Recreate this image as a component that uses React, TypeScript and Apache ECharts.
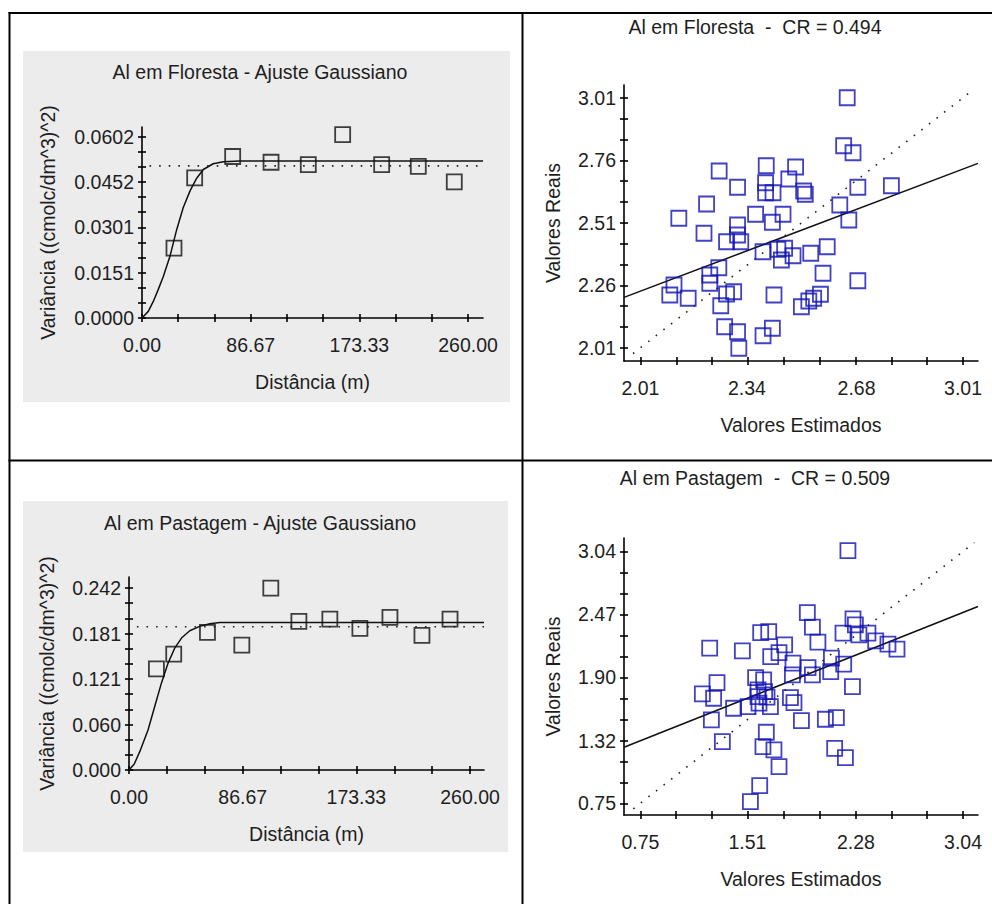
import React, { useEffect, useRef } from 'react';
import * as echarts from 'echarts';

// ---------------- Data ----------------
// Panel 1 – Al em Floresta, experimental semivariogram
const floLag = [25.5, 42.0, 72.3, 102.9, 132.6, 160.0, 191.1, 220.3, 249.0];
const floGamma = [0.0232, 0.0465, 0.0536, 0.0517, 0.0509, 0.0609, 0.0509, 0.0503, 0.0452];
// fitted Gaussian model
const floModelLag = [0, 5, 9, 13, 17, 22.3, 27.7, 32.9, 38.3, 43.6, 48.9, 56.8, 64.8, 78.1, 271.9];
const floModelGamma = [0, 0.0022, 0.0055, 0.0095, 0.0138, 0.0205, 0.0294, 0.0367, 0.0422, 0.0464, 0.0493, 0.0512, 0.0519, 0.0521, 0.0521];
const floSampleVar = 0.0505;
const floXLabels = [0, 86.67, 173.33, 260];
const floYLabels = [0, 0.0151, 0.0301, 0.0452, 0.0602];

// Panel 2 – Al em Pastagem, experimental semivariogram
const pasLag = [20.9, 34.1, 59.8, 86.0, 108.1, 129.5, 153.1, 176.0, 198.9, 223.3, 244.7];
const pasGamma = [0.1346, 0.1542, 0.183, 0.1660, 0.242, 0.1976, 0.2008, 0.1883, 0.203, 0.179, 0.2008];
const pasModelLag = [0, 4, 8.2, 14.5, 19.6, 24.7, 29.8, 34.9, 40.0, 46.3, 53.9, 61.6, 69.2, 270.6];
const pasModelGamma = [0, 0.0080, 0.0244, 0.0533, 0.0844, 0.1155, 0.1422, 0.1622, 0.1755, 0.1852, 0.191, 0.1946, 0.1963, 0.1963];
const pasSampleVar = 0.1905;
const pasXLabels = [0, 86.67, 173.33, 260];
const pasYLabels = [0, 0.06, 0.121, 0.181, 0.242];

// Panel 3 – Al em Floresta, cross validation (estimated vs real)
const floEst = [
  2.651, 2.640, 2.669, 2.254, 2.400, 2.491, 2.470, 2.311, 2.398, 2.398,
  2.421, 2.516, 2.521, 2.684, 2.788, 2.215, 2.129, 2.628, 2.656, 2.367,
  2.419, 2.452, 2.207, 2.311, 2.311, 2.277, 2.321, 2.390, 2.436, 2.457,
  2.447, 2.483, 2.538, 2.589, 2.253, 2.225, 2.225, 2.576, 2.684, 2.101,
  2.114, 2.158, 2.277, 2.299, 2.259, 2.424, 2.509, 2.532, 2.547, 2.568,
  2.271, 2.311, 2.315, 2.390, 2.419,
];
const floReal = [
  3.010, 2.818, 2.790, 2.717, 2.738, 2.733, 2.685, 2.652, 2.670, 2.630,
  2.630, 2.637, 2.624, 2.652, 2.658, 2.585, 2.528, 2.581, 2.521, 2.544,
  2.512, 2.544, 2.468, 2.501, 2.461, 2.434, 2.434, 2.394, 2.404, 2.408,
  2.361, 2.378, 2.388, 2.414, 2.330, 2.301, 2.268, 2.308, 2.278, 2.221,
  2.261, 2.208, 2.225, 2.234, 2.178, 2.221, 2.174, 2.197, 2.208, 2.224,
  2.094, 2.074, 2.008, 2.058, 2.088,
];
const floRegX = [1.959, 3.0565];
const floRegY = [2.2116, 2.7476];
const floIdentity = [1.987, 3.041];
const floCvXLabels = [2.01, 2.34, 2.68, 3.01];
const floCvYLabels = [2.01, 2.26, 2.51, 2.76, 3.01];

// Panel 4 – Al em Pastagem, cross validation
const pasEst = [
  2.223, 1.935, 1.971, 2.010, 2.259, 2.276, 2.188, 2.301, 2.365, 2.420,
  2.507, 2.571, 1.604, 1.661, 1.242, 1.474, 1.774, 1.734, 1.675, 1.833,
  1.940, 1.829, 1.971, 2.106, 2.101, 2.193, 2.255, 1.294, 1.190, 1.270,
  1.568, 1.625, 1.585, 1.632, 1.585, 1.649, 1.592, 1.673, 1.514, 1.412,
  1.815, 1.840, 1.254, 1.893, 2.063, 2.141, 1.332, 1.644, 1.620, 1.698,
  1.734, 2.129, 2.205, 1.597, 1.531,
];
const pasReal = [
  3.048, 2.484, 2.351, 2.215, 2.427, 2.372, 2.297, 2.281, 2.297, 2.227,
  2.197, 2.151, 2.302, 2.311, 2.160, 2.136, 2.190, 2.120, 2.084, 2.024,
  1.984, 1.917, 1.917, 2.069, 1.947, 2.015, 1.811, 1.847, 1.745, 1.705,
  1.893, 1.872, 1.781, 1.765, 1.720, 1.715, 1.660, 1.629, 1.629, 1.614,
  1.711, 1.665, 1.508, 1.502, 1.514, 1.529, 1.311, 1.396, 1.265, 1.235,
  1.083, 1.250, 1.165, 0.910, 0.765,
];
const pasRegX = [0.634, 3.146];
const pasRegY = [1.2596, 2.539];
const pasIdentity = [0.70, 3.12];
const pasCvXLabels = [0.75, 1.51, 2.28, 3.04];
const pasCvYLabels = [0.75, 1.32, 1.90, 2.47, 3.04];

const titles = [
  'Al em Floresta - Ajuste Gaussiano',
  'Al em Pastagem - Ajuste Gaussiano',
  'Al em Floresta  -  CR = 0.494',
  'Al em Pastagem  -  CR = 0.509',
];
const varName = 'Variância ((cmolc/dm^3)^2)';
const distName = 'Distância (m)';
const realName = 'Valores Reais';
const estName = 'Valores Estimados';

// ---------------- helpers ----------------
const FONT = '"Liberation Sans", Arial, sans-serif';
const FS = 19.5;
const TXT = '#1e1e1e';

const zip = (a: number[], b: number[]) => a.map((v, i) => [v, b[i]]);

function evenTicks(labels: number[], perMajor: number) {
  const first = labels[0];
  const last = labels[labels.length - 1];
  const n = (labels.length - 1) * perMajor;
  const out: number[] = [];
  for (let k = 0; k <= n; k++) out.push(first + ((last - first) * k) / n);
  return out;
}

function axisPair(
  dim: 'x' | 'y',
  grid: number,
  min: number,
  max: number,
  labels: number[],
  dec: number,
  name: string,
  nameGap: number,
  margin: number
) {
  const pos = dim === 'x' ? 'bottom' : 'left';
  const ticks = evenTicks(labels, 3);
  const tickStyle = { color: '#000', width: 1.6 };
  const main: any = {
    type: 'value',
    gridIndex: grid,
    position: pos,
    min,
    max,
    name,
    nameLocation: 'middle',
    nameGap,
    nameTextStyle: { fontFamily: FONT, fontSize: FS, color: TXT },
    axisLine: { show: true, onZero: false, lineStyle: { color: '#000', width: 1.6 } },
    axisTick: { show: false },
    axisLabel: {
      show: true,
      customValues: labels,
      formatter: (v: number) => v.toFixed(dec),
      margin,
      fontFamily: FONT,
      fontSize: FS,
      color: TXT,
      hideOverlap: false,
    },
    splitLine: { show: false },
    z: 3,
  };
  // second copy of the axis, shifted 4px into the plot, whose 8px ticks cross the axis line
  const overlay: any = {
    type: 'value',
    gridIndex: grid,
    position: pos,
    offset: -4,
    min,
    max,
    axisLine: { show: false, onZero: false },
    axisTick: { show: true, inside: false, length: 8, customValues: ticks, lineStyle: tickStyle },
    axisLabel: { show: false },
    splitLine: { show: false },
    z: 3,
  };
  return [main, overlay];
}

const App: React.FC = () => {
  const ref = useRef<HTMLDivElement>(null);

  useEffect(() => {
    if (!ref.current) return;
    const chart = echarts.init(ref.current, undefined, { renderer: 'svg' });

    const grids = [
      { left: 142, top: 127, width: 341, height: 191 },
      { left: 129, top: 577, width: 355, height: 193 },
      { left: 624, top: 85, width: 354, height: 276 },
      { left: 624, top: 538, width: 354, height: 277 },
    ].map((g) => ({ ...g, show: false, containLabel: false, outerBoundsMode: 'none' }));

    const xAxes = [
      ...axisPair('x', 0, 0, 271.9, floXLabels, 2, distName, 54, 17),
      ...axisPair('x', 1, 0, 270.6, pasXLabels, 2, distName, 54, 17),
      ...axisPair('x', 2, 1.959, 3.0565, floCvXLabels, 2, estName, 54, 17),
      ...axisPair('x', 3, 0.634, 3.146, pasCvXLabels, 2, estName, 54, 17),
    ];
    const yAxes = [
      ...axisPair('y', 0, 0, 0.0634, floYLabels, 4, varName, 84, 8),
      ...axisPair('y', 1, 0, 0.2567, pasYLabels, 3, varName, 72, 8),
      ...axisPair('y', 2, 1.957, 3.061, floCvYLabels, 2, realName, 61, 8),
      ...axisPair('y', 3, 0.6435, 3.162, pasCvYLabels, 2, realName, 61, 8),
    ];

    const blackSquares = {
      symbol: 'rect',
      symbolSize: 15,
      itemStyle: { color: 'transparent', borderColor: '#111', borderWidth: 1.8 },
    };
    const blueSquares = {
      symbol: 'rect',
      symbolSize: 15,
      itemStyle: { color: 'transparent', borderColor: '#1212b4', borderWidth: 1.8 },
    };
    const solid = { color: '#111', width: 1.5 };
    const dotted = { color: '#222', width: 1.6, type: [1.6, 8] as any };

    const series: any[] = [
      // Floresta variogram
      { type: 'scatter', xAxisIndex: 0, yAxisIndex: 0, data: zip(floLag, floGamma), z: 5, ...blackSquares },
      { type: 'line', xAxisIndex: 0, yAxisIndex: 0, data: zip(floModelLag, floModelGamma), showSymbol: false, smooth: false, lineStyle: solid },
      { type: 'line', xAxisIndex: 0, yAxisIndex: 0, data: [[6, floSampleVar], [271.9, floSampleVar]], showSymbol: false, lineStyle: dotted },
      // Pastagem variogram
      { type: 'scatter', xAxisIndex: 2, yAxisIndex: 2, data: zip(pasLag, pasGamma), z: 5, ...blackSquares },
      { type: 'line', xAxisIndex: 2, yAxisIndex: 2, data: zip(pasModelLag, pasModelGamma), showSymbol: false, smooth: false, lineStyle: solid },
      { type: 'line', xAxisIndex: 2, yAxisIndex: 2, data: [[6, pasSampleVar], [270.6, pasSampleVar]], showSymbol: false, lineStyle: dotted },
      // Floresta cross validation
      { type: 'scatter', xAxisIndex: 4, yAxisIndex: 4, data: zip(floEst, floReal), z: 5, ...blueSquares },
      { type: 'line', xAxisIndex: 4, yAxisIndex: 4, data: zip(floRegX, floRegY), showSymbol: false, lineStyle: solid },
      { type: 'line', xAxisIndex: 4, yAxisIndex: 4, data: zip(floIdentity, floIdentity), showSymbol: false, lineStyle: dotted },
      // Pastagem cross validation
      { type: 'scatter', xAxisIndex: 6, yAxisIndex: 6, data: zip(pasEst, pasReal), z: 5, ...blueSquares },
      { type: 'line', xAxisIndex: 6, yAxisIndex: 6, data: zip(pasRegX, pasRegY), showSymbol: false, lineStyle: solid },
      { type: 'line', xAxisIndex: 6, yAxisIndex: 6, data: zip(pasIdentity, pasIdentity), showSymbol: false, lineStyle: dotted },
      // empty series bound to the tick axes so they are laid out
      ...[1, 3, 5, 7].map((i) => ({ type: 'scatter', xAxisIndex: i, yAxisIndex: i, data: [], silent: true })),
    ];

    const border = { stroke: '#000', lineWidth: 2 };
    const titleText = (text: string, x: number, y: number) => ({
      type: 'text',
      x,
      y,
      z: 10,
      style: { text, fill: TXT, font: `${FS}px ${FONT}`, align: 'center', verticalAlign: 'middle' },
    });

    const graphic: any[] = [
      { type: 'rect', z: -10, shape: { x: 23, y: 51, width: 487, height: 351 }, style: { fill: '#ececec' } },
      { type: 'rect', z: -10, shape: { x: 23, y: 501, width: 485, height: 351 }, style: { fill: '#ececec' } },
      { type: 'line', z: 10, shape: { x1: 9.5, y1: 12, x2: 9.5, y2: 904 }, style: border },
      { type: 'line', z: 10, shape: { x1: 8.5, y1: 13, x2: 992, y2: 13 }, style: border },
      { type: 'line', z: 10, shape: { x1: 522.5, y1: 12, x2: 522.5, y2: 904 }, style: border },
      { type: 'line', z: 10, shape: { x1: 8.5, y1: 460.5, x2: 992, y2: 460.5 }, style: border },
      titleText(titles[0], 260, 72),
      titleText(titles[1], 260, 523),
      titleText(titles[2], 755, 27),
      titleText(titles[3], 755, 478),
    ];

    chart.setOption({
      animation: false,
      backgroundColor: '#ffffff',
      grid: grids,
      xAxis: xAxes,
      yAxis: yAxes,
      series,
      graphic,
    });

    return () => chart.dispose();
  }, []);

  return (
    <div
      ref={ref}
      style={{ position: 'absolute', left: 0, top: 0, width: 992, height: 904 }}
    />
  );
};

export default App;
